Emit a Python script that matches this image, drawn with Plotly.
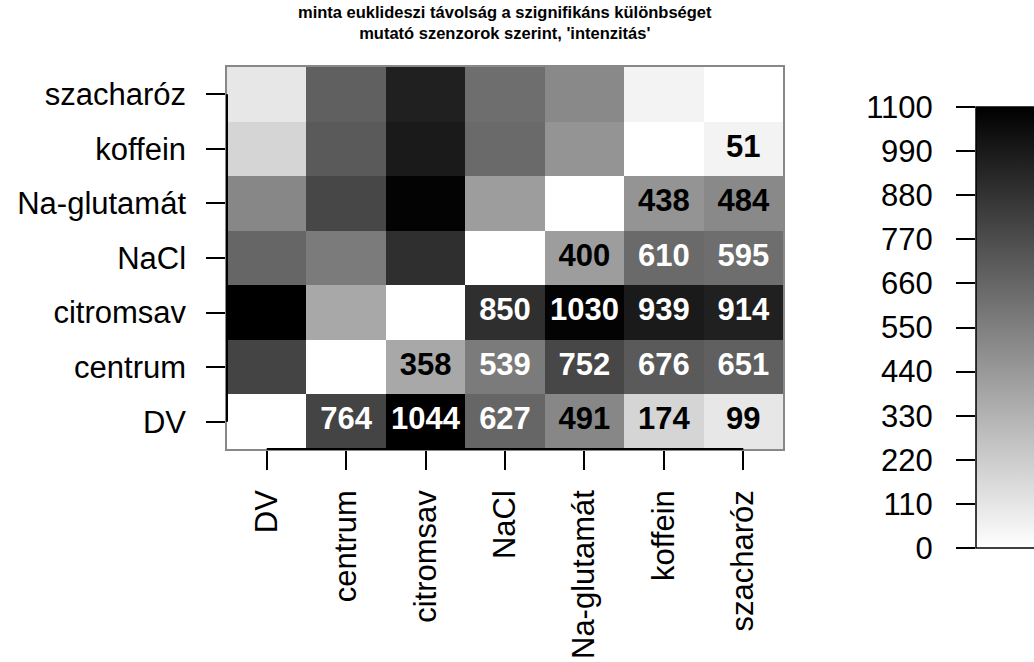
import plotly.graph_objects as go

# Samples (same order on both axes, first one at the bottom / left)
samples = ["DV", "centrum", "citromsav", "NaCl", "Na-glutamát", "koffein", "szacharóz"]

# Pairwise Euclidean distances, row sample vs. the samples after it
dist_DV = [764, 1044, 627, 491, 174, 99]
dist_centrum = [358, 539, 752, 676, 651]
dist_citromsav = [850, 1030, 939, 914]
dist_NaCl = [400, 610, 595]
dist_Na_glutamat = [438, 484]
dist_koffein = [51]

upper_rows = [dist_DV, dist_centrum, dist_citromsav, dist_NaCl, dist_Na_glutamat, dist_koffein, []]

# Colourbar axis and ticks
CBAR_MIN, CBAR_MAX = 0, 1100
cbar_ticks = [0, 110, 220, 330, 440, 550, 660, 770, 880, 990, 1100]
LIGHT_TEXT_ABOVE = 500

n = len(samples)
z = [[0] * n for _ in range(n)]
for i, row in enumerate(upper_rows):
    for k, v in enumerate(row):
        j = i + 1 + k
        z[i][j] = v
        z[j][i] = v

# grey levels span the observed range of distances
ZMIN = 0
ZMAX = max(max(r) for r in upper_rows if r)

FONT = "Liberation Sans, Arial, sans-serif"
W, H = 1034, 662

# pixel geometry helpers (paper spans the full figure, margins are zero)
def px_x(p):
    return p / W

def px_y(p):
    return 1 - p / H

fig = go.Figure()

fig.add_trace(go.Heatmap(
    x=samples, y=samples, z=z,
    zmin=ZMIN, zmax=ZMAX,
    colorscale=[[0, "#ffffff"], [1, "#000000"]],
    hoverinfo="skip",
    colorbar=dict(
        x=px_x(976), xanchor="left", xpad=0,
        y=px_y(548), yanchor="bottom", ypad=0,
        lenmode="pixels", len=548 - 107,
        thickness=90,
        outlinewidth=1.5, outlinecolor="black",
        ticks="", showticklabels=False,
    ),
))

# value labels in the upper triangle
tx, ty, tt, tc = [], [], [], []
for i in range(n):
    for j in range(i + 1, n):
        tx.append(samples[j])
        ty.append(samples[i])
        tt.append(str(z[i][j]))
        tc.append("white" if z[i][j] > LIGHT_TEXT_ABOVE else "black")

fig.add_trace(go.Scatter(
    x=tx, y=ty, text=tt, mode="text",
    textposition="middle center",
    textfont=dict(family=FONT, size=31, color=tc, weight="bold"),
    hoverinfo="skip", showlegend=False,
))

# carrier for the colourbar's tick axis
fig.add_trace(go.Scatter(
    x=[0, 0], y=[CBAR_MIN, CBAR_MAX], mode="markers",
    marker=dict(opacity=0), hoverinfo="skip", showlegend=False,
    xaxis="x2", yaxis="y2",
))

axis_common = dict(
    type="category", categoryorder="array", categoryarray=samples,
    showgrid=False, zeroline=False, automargin=False,
    ticks="outside", ticklen=19, tickwidth=2, tickcolor="black",
    tickfont=dict(family=FONT, size=31, color="black"),
    showline=True, linecolor="#888888", linewidth=1.5, mirror=True,
)

fig.update_layout(
    width=W, height=H,
    margin=dict(l=0, r=0, t=0, b=0, autoexpand=False),
    paper_bgcolor="white", plot_bgcolor="white",
    showlegend=False, hovermode=False,
    xaxis=dict(axis_common, domain=[px_x(227), px_x(783)], anchor="y",
               tickangle=-90, ticklabelstandoff=8),
    yaxis=dict(axis_common, domain=[px_y(449), px_y(67)], anchor="x",
               ticklabelstandoff=14),
    xaxis2=dict(domain=[px_x(976), 1.0], range=[0, 1], visible=False, anchor="y2"),
    yaxis2=dict(domain=[px_y(548), px_y(107)], range=[CBAR_MIN, CBAR_MAX], anchor="x2",
                side="left", tickvals=cbar_ticks, ticks="outside", ticklen=19,
                tickwidth=2, tickcolor="black", showline=False, showgrid=False,
                zeroline=False, ticklabelstandoff=17, automargin=False,
                tickfont=dict(family=FONT, size=31, color="black")),
    annotations=[dict(
        text="<b>minta euklideszi távolság a szignifikáns különbséget<br>"
             "mutató szenzorok szerint, 'intenzitás'</b>",
        x=(px_x(227) + px_x(783)) / 2, y=px_y(23),
        xref="paper", yref="paper", xanchor="center", yanchor="middle",
        showarrow=False, font=dict(family=FONT, size=16.5, color="black"),
    )],
    shapes=[
        # axis lines running from the first to the last tick
        dict(type="line", xref="x", yref="y domain", x0=0, x1=n - 1, y0=0, y1=0,
             line=dict(color="black", width=2)),
        dict(type="line", xref="x domain", yref="y", x0=0, x1=0, y0=0, y1=n - 1,
             line=dict(color="black", width=2)),
    ],
)

fig.write_html("out.html")
